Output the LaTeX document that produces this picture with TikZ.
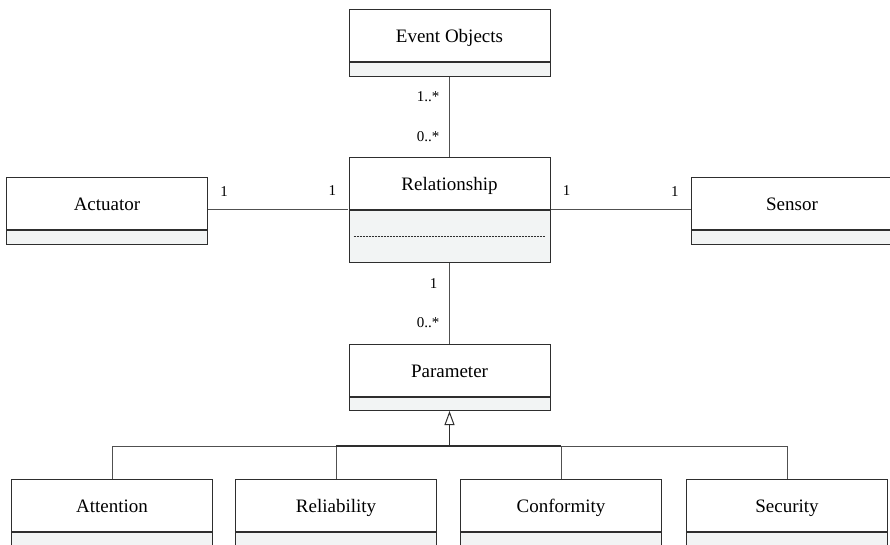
\documentclass[tikz,border=0pt]{standalone}
\usepackage{fontspec}
\setmainfont{Liberation Serif}
\usetikzlibrary{arrows.meta,calc,fit,positioning}
\definecolor{compfill}{HTML}{F2F4F4}
\definecolor{edge}{HTML}{2E2E2E}
\definecolor{wire}{HTML}{505050}
\tikzset{
  clsname/.style={draw=edge, line width=0.9pt, fill=white, minimum width=201pt,
    minimum height=52pt, inner sep=0pt, text height=18pt, text depth=4pt,
    font=\fontsize{19}{22}\selectfont},
  clscomp/.style={draw=edge, line width=0.9pt, fill=compfill, minimum width=201pt,
    inner sep=0pt, anchor=north},
  clsbox/.style={inner sep=0pt},
  wirel/.style={draw=wire, line width=0.8pt},
  mult/.style={font=\fontsize{15}{17}\selectfont, inner sep=0pt},
}
% a class: name compartment, grey body compartment, and a frame node around both
\newcommand{\umlclass}[5]{% name, x, ytop, body height, text
  \node[clsname, anchor=north] (#1-n) at (#2,#3) {#5};
  \node[clscomp, minimum height=#4] (#1-c) at (#1-n.south) {};
  \node[clsbox, fit=(#1-n)(#1-c)] (#1) {};
}
\begin{document}
\begin{tikzpicture}[x=1pt,y=-1pt]
\useasboundingbox (0,0) rectangle (890,545);
\clip (0,0) rectangle (890,545);

% classes
\umlclass{evt}{449.5}{9}{14pt}{Event Objects}
\umlclass{rel}{449.5}{157}{52pt}{Relationship}
\umlclass{act}{107}{177}{14pt}{Actuator}
\umlclass{sen}{792}{177}{14pt}{Sensor}
\umlclass{par}{449.5}{344}{13pt}{Parameter}
\umlclass{att}{112}{479}{30pt}{Attention}
\umlclass{rlb}{336}{479}{30pt}{Reliability}
\umlclass{cnf}{561}{479}{30pt}{Conformity}
\umlclass{sec}{787}{479}{30pt}{Security}

% dotted separator in the Relationship body
\draw[edge, line width=0.6pt, dash pattern=on 2pt off 1pt]
  ($(rel-c.west)+(5,0)$) -- ($(rel-c.east)+(-5,0)$);

% associations
\draw[wirel] (evt.south) -- (rel.north);
\draw[wirel] (rel.west -| act.east) -- (rel.west);
\draw[wirel] (rel.east) -- (rel.east -| sen.west);
\draw[wirel] (rel.south) -- (par.north);

% multiplicities
\node[mult, anchor=east] (m1) at ($(evt.south)+(-10,20)$) {1..*};
\node[mult, anchor=east] (m2) at ($(rel.north)+(-10,-20)$) {0..*};
\node[mult] (m3) at ($(act.east)+(16,-19)$) {1};
\node[mult] (m4) at ($(rel.west)+(-16,-19)$) {1};
\node[mult] (m5) at ($(rel.east)+(16,-19)$) {1};
\node[mult] (m6) at ($(sen.west)+(-16,-19)$) {1};
\node[mult, anchor=east] (m7) at ($(rel.south)+(-12,21)$) {1};
\node[mult, anchor=east] (m8) at ($(par.north)+(-10,-21)$) {0..*};

% generalization tree
\coordinate (hub) at ($(par.south)+(0,35)$);
\draw[wirel] (att.north) |- (hub);
\draw[wirel] (sec.north) |- (hub);
\draw[wirel] (rlb.north) -- (rlb.north |- hub);
\draw[wirel] (cnf.north) -- (cnf.north |- hub);
\draw[edge, line width=1.6pt] (rlb.north |- hub) -- (cnf.north |- hub);
\draw[edge, line width=1.6pt,
  -{Triangle[open, length=14pt, width=10pt, line width=1pt]}] (hub) -- (par.south);
\end{tikzpicture}
\end{document}
